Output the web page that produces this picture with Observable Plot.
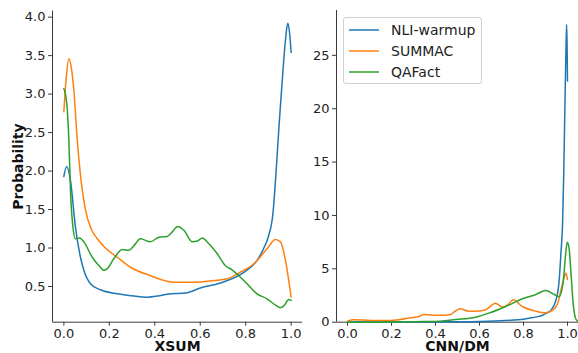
<!DOCTYPE html>
<html>
<head>
<meta charset="utf-8">
<script src="https://cdn.jsdelivr.net/npm/d3@7"></script>
<script src="https://cdn.jsdelivr.net/npm/@observablehq/plot@0.6"></script>
<style>
  html, body { margin: 0; padding: 0; background: white; }
  #wrap { position: relative; width: 578px; height: 353px; display: flex; font-family: "DejaVu Sans", sans-serif; }
  #legend { position: absolute; left: 343px; top: 17px; width: 137px; height: 65px; border: 1px solid #d0d0d0; border-radius: 3px; background: rgba(255,255,255,0.85); font-size: 14px; color: #222; }
  .row { position: absolute; left: 0; height: 20px; display: flex; align-items: center; }
  .row svg { margin-left: 5px; margin-right: 12px; }
</style>
</head>
<body>
<div id="wrap"></div>
<script>
// Series names & colors
const seriesNames = ["NLI-warmup", "SUMMAC", "QAFact"];
const seriesColors = ["#1f77b4", "#ff7f0e", "#2ca02c"];

// Panel titles
const panelLabels = ["XSUM", "CNN/DM"];
const yLabel = "Probability";

// Tick values
const xTicks = [0, 0.2, 0.4, 0.6, 0.8, 1.0];
const xsumYTicks = [0.5, 1.0, 1.5, 2.0, 2.5, 3.0, 3.5, 4.0];
const cnnYTicks = [0, 5, 10, 15, 20, 25];

// XSUM densities [score, density]
const xsumNLI = [[0,1.93],[0.012,2.06],[0.029,1.88],[0.051,1.27],[0.073,0.88],[0.088,0.71],[0.117,0.535],[0.161,0.457],[0.235,0.405],[0.30,0.38],[0.367,0.36],[0.42,0.38],[0.455,0.40],[0.543,0.42],[0.60,0.48],[0.70,0.556],[0.80,0.70],[0.85,0.84],[0.88,1.0],[0.90,1.15],[0.92,1.45],[0.934,2.0],[0.947,2.6],[0.96,3.14],[0.975,3.7],[0.985,3.92],[0.993,3.8],[1.0,3.54]];
const xsumSUMMAC = [[0,2.77],[0.01,3.2],[0.022,3.46],[0.035,3.3],[0.044,3.05],[0.059,2.40],[0.073,1.95],[0.095,1.50],[0.12,1.25],[0.147,1.12],[0.183,1.0],[0.235,0.88],[0.293,0.75],[0.381,0.64],[0.484,0.556],[0.572,0.556],[0.66,0.578],[0.719,0.60],[0.777,0.686],[0.836,0.795],[0.894,0.99],[0.931,1.11],[0.953,1.08],[0.975,0.84],[1.0,0.36]];
const xsumQAFact = [[0,3.07],[0.007,3.0],[0.015,2.8],[0.022,2.40],[0.029,1.75],[0.04,1.27],[0.051,1.12],[0.069,1.13],[0.088,1.08],[0.125,0.88],[0.161,0.75],[0.175,0.71],[0.19,0.73],[0.22,0.86],[0.257,0.98],[0.286,0.97],[0.308,1.03],[0.337,1.12],[0.381,1.08],[0.418,1.14],[0.455,1.15],[0.477,1.21],[0.501,1.28],[0.528,1.23],[0.565,1.08],[0.587,1.09],[0.609,1.13],[0.638,1.055],[0.675,0.925],[0.711,0.77],[0.74,0.717],[0.77,0.64],[0.806,0.535],[0.85,0.405],[0.894,0.34],[0.93,0.26],[0.953,0.225],[0.968,0.25],[0.99,0.33],[1.0,0.32]];

// CNN/DM densities [score, density]
const cnnNLI = [[0,0.02],[0.2,0.02],[0.4,0.03],[0.5,0.04],[0.6,0.07],[0.72,0.16],[0.8,0.28],[0.825,0.37],[0.86,0.5],[0.886,0.65],[0.905,0.85],[0.924,1.1],[0.947,2.03],[0.962,3.9],[0.97,6.4],[0.978,9.5],[0.983,14],[0.988,20],[0.993,25.5],[0.996,27.9],[0.998,26],[1.0,22.6]];
const cnnSUMMAC = [[0,0.1],[0.027,0.22],[0.07,0.2],[0.12,0.16],[0.195,0.16],[0.24,0.25],[0.286,0.41],[0.324,0.53],[0.347,0.72],[0.392,0.66],[0.44,0.66],[0.468,0.72],[0.491,1.05],[0.511,1.25],[0.552,1.03],[0.6,1.05],[0.628,1.16],[0.673,1.78],[0.704,1.41],[0.73,1.65],[0.753,2.1],[0.795,1.47],[0.856,1.03],[0.901,0.88],[0.932,1.1],[0.955,1.72],[0.97,2.97],[0.985,4.2],[0.993,4.6],[1.0,4.0]];
const cnnQAFact = [[0,0.0],[0.2,0.01],[0.347,0.06],[0.42,0.1],[0.491,0.25],[0.582,0.47],[0.643,0.85],[0.719,1.47],[0.795,2.19],[0.856,2.6],[0.901,2.97],[0.94,2.6],[0.962,2.4],[0.981,3.9],[0.992,6.5],[0.999,7.5],[1.008,6.8],[1.015,4.85],[1.026,1.72],[1.038,0.3],[1.05,0.05]];

const xDomain = [-0.05, 1.05];
const xsumYDomain = [0.036, 4.08];
const cnnYDomain = [0, 29.2];

function panel(opts) {
  const {series, width, marginLeft, marginRight, marginTop, yDomain, yTicks, yFmt, label, showYLabel} = opts;
  const marks = [
    Plot.ruleX([xDomain[0]], {stroke: "#3a3a3a", strokeWidth: 1}),
    Plot.ruleY([yDomain[0]], {stroke: "#3a3a3a", strokeWidth: 1}),
    Plot.axisX({ticks: xTicks, tickFormat: d3.format(".1f"), tickSize: 4, tickPadding: 3, label: null, stroke: "#3a3a3a"}),
    Plot.axisY({ticks: yTicks, tickFormat: yFmt, tickSize: 4, tickPadding: 3, label: null, stroke: "#3a3a3a"}),
    ...series.map((s, i) => Plot.line(s, {x: d => d[0], y: d => d[1], stroke: seriesColors[i], strokeWidth: 1.5, curve: "monotone-x"})),
    Plot.text([label], {frameAnchor: "bottom", lineAnchor: "middle", textAnchor: "middle", dy: 24.8, fontWeight: "bold", fontSize: 14, fill: "#111"})
  ];
  if (showYLabel) {
    marks.push(Plot.text([yLabel], {frameAnchor: "left", textAnchor: "middle", lineAnchor: "middle", dx: -33.5, rotate: -90, fontWeight: "bold", fontSize: 14, fill: "#111"}));
  }
  return Plot.plot({
    width, height: 353,
    marginLeft, marginRight, marginTop, marginBottom: 31.3,
    x: {domain: xDomain},
    y: {domain: yDomain},
    style: {fontFamily: "DejaVu Sans, sans-serif", fontSize: "13px", color: "#222", background: "white", overflow: "visible"},
    marks
  });
}

const wrap = document.getElementById("wrap");
wrap.appendChild(panel({series: [xsumNLI, xsumSUMMAC, xsumQAFact], width: 310, marginLeft: 52, marginRight: 8, marginTop: 10.5, yDomain: xsumYDomain, yTicks: xsumYTicks, yFmt: d3.format(".1f"), label: panelLabels[0], showYLabel: true}));
wrap.appendChild(panel({series: [cnnNLI, cnnSUMMAC, cnnQAFact], width: 268, marginLeft: 26, marginRight: 0, marginTop: 10, yDomain: cnnYDomain, yTicks: cnnYTicks, yFmt: d3.format("d"), label: panelLabels[1], showYLabel: false}));

// Legend
const legend = document.createElement("div");
legend.id = "legend";
seriesNames.forEach((name, i) => {
  const row = document.createElement("div");
  row.className = "row";
  row.style.top = (2 + i * 21) + "px";
  row.innerHTML = `<svg width="30" height="4"><line x1="0" x2="30" y1="2" y2="2" stroke="${seriesColors[i]}" stroke-width="1.5"/></svg><span>${name}</span>`;
  legend.appendChild(row);
});
wrap.appendChild(legend);
</script>
</body>
</html>
